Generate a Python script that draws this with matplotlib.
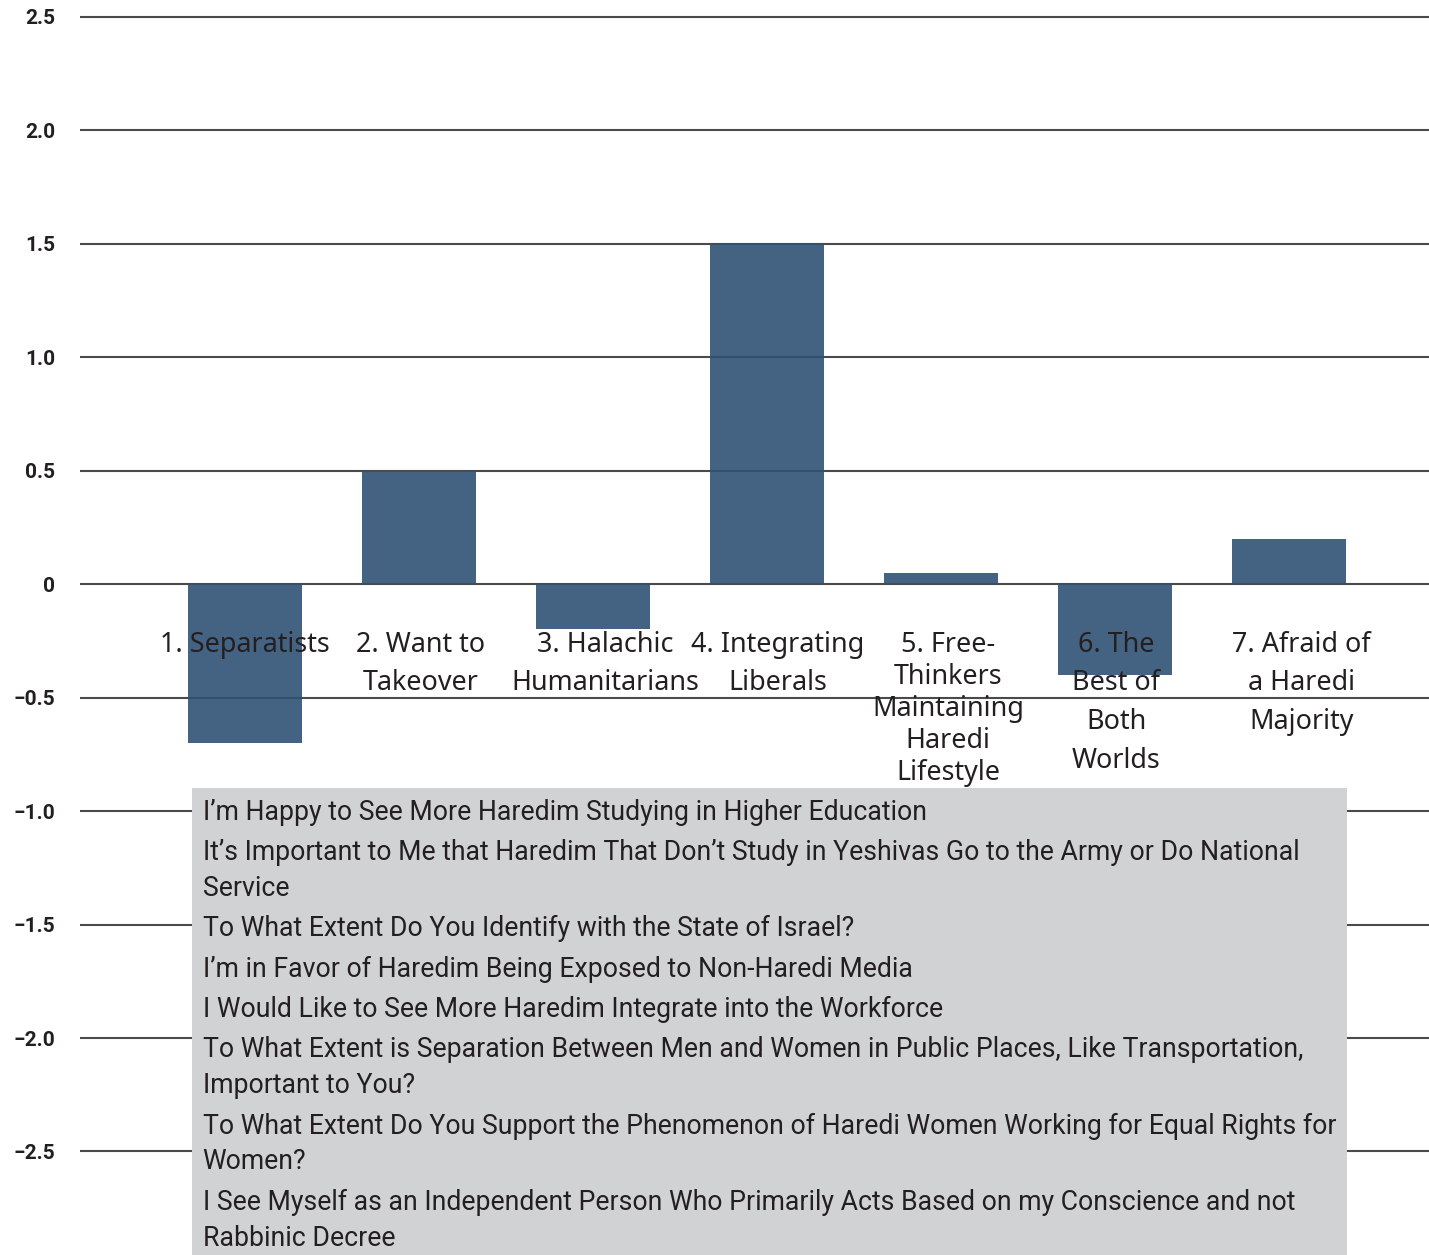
import matplotlib
matplotlib.use("Agg")
import matplotlib.pyplot as plt
from matplotlib.patches import Patch

categories = [
    "1. Separatists",
    "2. Want to\nTakeover",
    "3. Halachic\nHumanitarians",
    "4. Integrating\nLiberals",
    "5. Free-\nThinkers\nMaintaining\nHaredi\nLifestyle",
    "6. The\nBest of\nBoth\nWorlds",
    "7. Afraid of\na Haredi\nMajority",
]
values = [-0.70, 0.50, -0.20, 1.50, 0.05, -0.40, 0.20]

y_ticks = [2.5, 2.0, 1.5, 1.0, 0.5, 0, -0.5, -1.0, -1.5, -2.0, -2.5]
y_tick_labels = ["2.5", "2.0", "1.5", "1.0", "0.5", "0", "\u22120.5", "\u22121.0",
                 "\u22121.5", "\u22122.0", "\u22122.5"]

legend_labels = [
    "I\u2019m Happy to See More Haredim Studying in Higher Education",
    "It\u2019s Important to Me that Haredim That Don\u2019t Study in Yeshivas Go to the Army or Do National\nService",
    "To What Extent Do You Identify with the State of Israel?",
    "I\u2019m in Favor of Haredim Being Exposed to Non-Haredi Media",
    "I Would Like to See More Haredim Integrate into the Workforce",
    "To What Extent is Separation Between Men and Women in Public Places, Like Transportation,\nImportant to You?",
    "To What Extent Do You Support the Phenomenon of Haredi Women Working for Equal Rights for\nWomen?",
    "I See Myself as an Independent Person Who Primarily Acts Based on my Conscience and not\nRabbinic Decree",
]

# horizontal nudges (points) of the category labels relative to bar centres
label_dx = [0, 1, 9, 8, 5, 1, 9]

W, H = 1429, 1255
fig = plt.figure(figsize=(W / 100, H / 100), dpi=100)
ax = fig.add_axes([80 / W, 0, 1 - 80 / W, 1])

x = list(range(len(categories)))
ax.bar(x, values, width=0.655, color="#2f5274", alpha=0.9, zorder=2)

ax.set_xlim(-0.948, 6.805)
ax.set_ylim(-2.956, 2.573)

ax.set_yticks(y_ticks)
ax.set_yticklabels(y_tick_labels, fontfamily="Roboto", fontweight="bold",
                   fontsize=15, color="#231f20")
ax.tick_params(axis="y", length=0, pad=18)
ax.grid(axis="y", color="#4a4a4a", linewidth=1.5)
ax.set_axisbelow(True)

for s in ["top", "right", "left", "bottom"]:
    ax.spines[s].set_visible(False)
ax.set_xticks([])

for i, (cat, dx) in enumerate(zip(categories, label_dx)):
    ax.annotate(cat, xy=(x[i], 0), xytext=(dx, -33.5), textcoords="offset points",
                ha="center", va="top", fontfamily="Noto Sans", fontsize=19.4,
                color="#231f20", linespacing=(1.2 if i == 4 else 1.51),
                zorder=5, annotation_clip=False)

handles = [Patch(visible=False) for _ in legend_labels]
leg = fig.legend(handles, legend_labels, loc="upper left",
                 bbox_to_anchor=(192 / W, 1 - 788 / H),
                 bbox_transform=fig.transFigure,
                 prop={"family": "Roboto", "size": 19.2},
                 handlelength=0, handletextpad=0, borderpad=0.4,
                 borderaxespad=0, labelspacing=0.5,
                 frameon=True, fancybox=False, framealpha=1)
leg.get_frame().set_facecolor("#d1d2d4")
leg.get_frame().set_edgecolor("none")
for t in leg.get_texts():
    t.set_color("#231f20")
    t.set_linespacing(1.42)
leg.set_zorder(10)

fig.savefig("out.png", dpi=100)
